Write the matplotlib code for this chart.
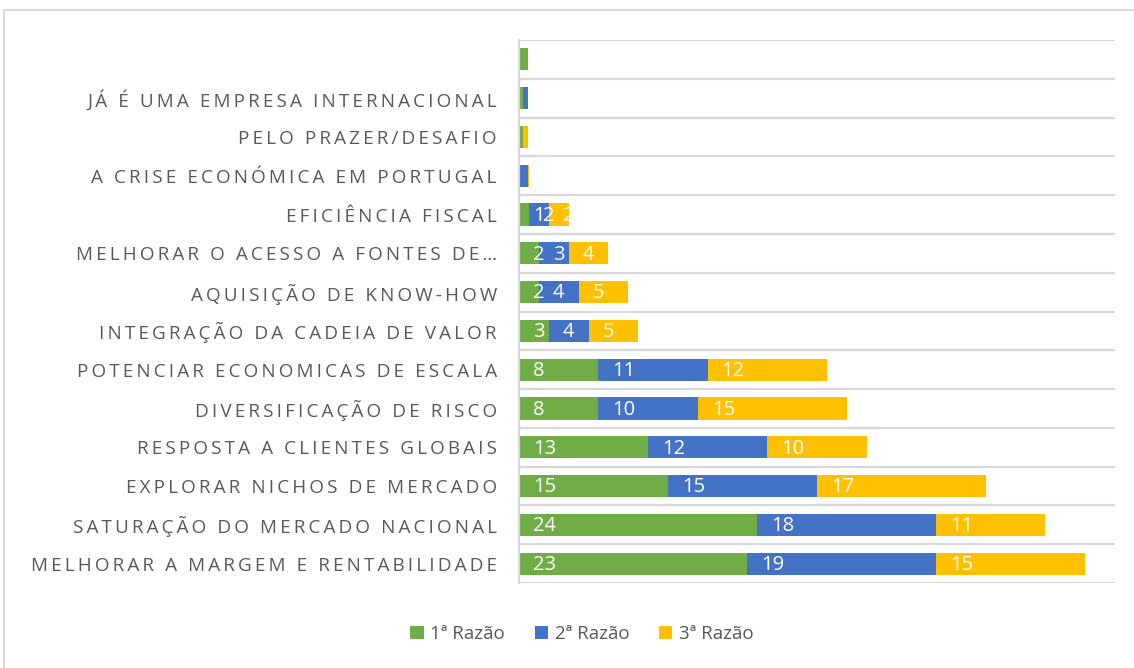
import matplotlib
matplotlib.use("Agg")
import matplotlib.pyplot as plt
from matplotlib.lines import Line2D
import numpy as np

plt.rcParams['font.family'] = ['Open Sans', 'DejaVu Sans']

# categories listed bottom -> top
categories = [
    "MELHORAR A MARGEM E RENTABILIDADE",
    "SATURAÇÃO DO MERCADO NACIONAL",
    "EXPLORAR NICHOS DE MERCADO",
    "RESPOSTA A CLIENTES GLOBAIS",
    "DIVERSIFICAÇÃO DE RISCO",
    "POTENCIAR ECONOMICAS DE ESCALA",
    "INTEGRAÇÃO DA CADEIA DE VALOR",
    "AQUISIÇÃO DE KNOW-HOW",
    "MELHORAR O ACESSO A FONTES DE…",
    "EFICIÊNCIA FISCAL",
    "A CRISE ECONÓMICA EM PORTUGAL",
    "PELO PRAZER/DESAFIO",
    "JÁ É UMA EMPRESA INTERNACIONAL",
    "",
]
razao1 = [23, 24, 15, 13, 8, 8, 3, 2, 2, 1, 0, 0.4, 0.4, 0.9]
razao2 = [19, 18, 15, 12, 10, 11, 4, 4, 3, 2, 0.9, 0, 0.5, 0]
razao3 = [15, 11, 17, 10, 15, 12, 5, 5, 4, 2, 0.1, 0.5, 0, 0]
series_names = ["1ª Razão", "2ª Razão", "3ª Razão"]
colors = ["#70AD47", "#4472C4", "#FFC000"]

grey = "#595959"
line_grey = "#D9D9D9"

fig = plt.figure(figsize=(11.34, 6.68), dpi=100)
ax = fig.add_axes([519/1134, 1 - 583/668, (1115-519)/1134, (583-40)/668])

y = np.arange(len(categories))
left = np.zeros(len(categories))
for vals, name, col in zip([razao1, razao2, razao3], series_names, colors):
    vals = np.array(vals, dtype=float)
    ax.barh(y, vals, left=left, height=0.57, color=col, label=name, zorder=3)
    for yi, l, v in zip(y, left, vals):
        if v >= 1:
            ax.annotate(f"{v:g}", (l, yi), xytext=(10, -1), textcoords="offset points",
                        ha="left", va="center", color="white", fontsize=14.5, zorder=4)
    left += vals

ax.set_xlim(0, 60)
ax.set_ylim(-0.5, len(categories) - 0.5)
ax.set_xticks([])
ax.set_yticks(y)
# imitate the letter spacing of the original labels
spaced = ["\u2009".join(c) for c in categories]
ax.set_yticklabels(spaced, fontsize=13.6, color=grey)
ax.tick_params(axis="y", length=0, pad=16)
ax.set_yticks(np.arange(-0.5, len(categories)), minor=True)
ax.tick_params(axis="y", which="minor", length=0)
ax.grid(which="minor", axis="y", color=line_grey, linewidth=1.6, zorder=0)
for s in ["top", "right", "bottom"]:
    ax.spines[s].set_visible(False)
ax.spines["left"].set_color(line_grey)
ax.spines["left"].set_linewidth(1.6)
ax.spines["left"].set_zorder(5)

# outer chart border (only top and left edges visible)
fig.add_artist(Line2D([4/1134, 1], [1 - 10/668] * 2, color=line_grey, lw=1.5))
fig.add_artist(Line2D([4/1134] * 2, [0, 1 - 10/668], color=line_grey, lw=1.5))

fig.legend(loc="center", bbox_to_anchor=(582/1134, 1 - 634/668), ncol=3, frameon=False,
           fontsize=13.5, labelcolor=grey, handlelength=0.7, handleheight=0.7,
           handletextpad=0.35, columnspacing=1.6)

fig.savefig("out.png", dpi=100)
